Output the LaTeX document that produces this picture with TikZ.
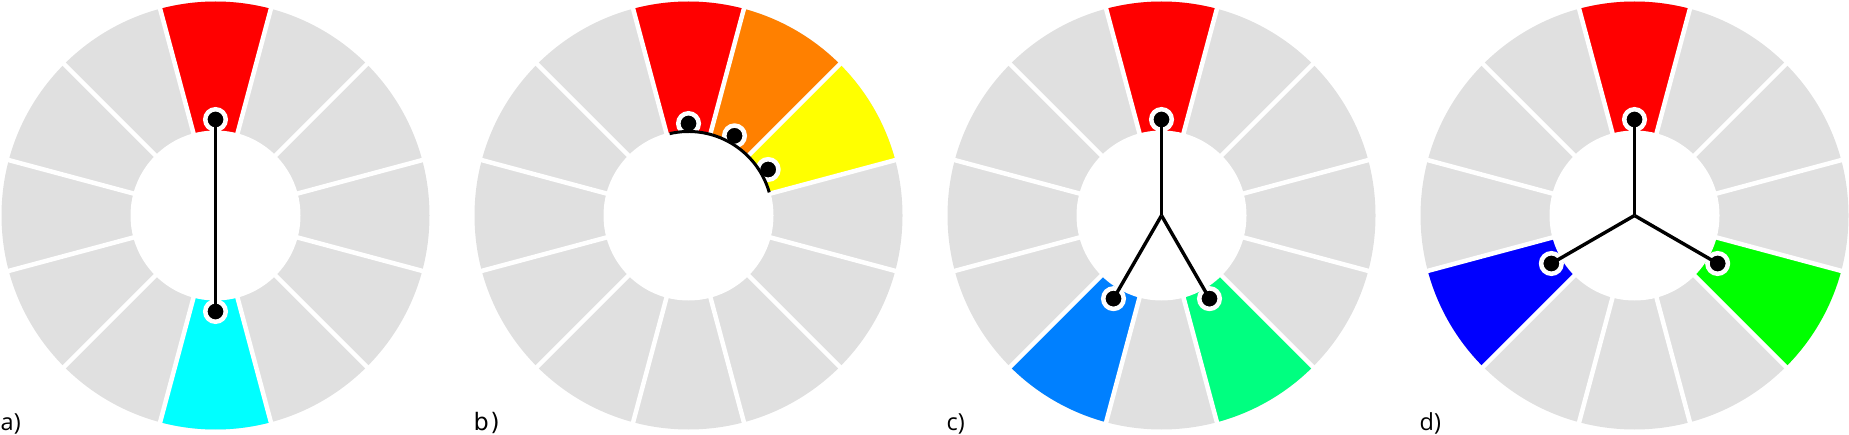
\documentclass[tikz,border=0pt]{standalone}
\usepackage{fontspec}
\setmainfont{Open Sans}
\newfontfamily\dejavu{DejaVu Sans}
\usetikzlibrary{calc}
\definecolor{wgrey}{HTML}{E0E0E0}
\definecolor{corange}{HTML}{FF8000}
\definecolor{cyellow}{HTML}{FFFF00}
\definecolor{ccyan}{HTML}{00FFFF}
\definecolor{cazure}{HTML}{0080FF}
\definecolor{cspring}{HTML}{00FF80}
\definecolor{cblue}{HTML}{0000FF}
\definecolor{cgreen}{HTML}{00FF00}
\definecolor{cred}{HTML}{FF0000}
\newcommand\wbase[2]{%
  \coordinate (#1) at (#2,218.5);
  \fill[wgrey] (#1) circle[radius=214];}
\newcommand\wsector[4]{%
  \fill[#4] (#1) -- ++(#2:214) arc[start angle=#2, end angle=#3, radius=214] -- cycle;}
\newcommand\wtop[1]{%
  \foreach \t in {15,45,...,345} \draw[spoke] (#1) -- ++(\t:218);
  \fill[white] (#1) circle[radius=85];}
\begin{document}
\begin{tikzpicture}[x=1pt,y=1pt,
  dot/.style={circle, fill=black, draw=white, line width=4.5pt, minimum size=20.5pt, inner sep=0pt},
  link/.style={line width=3.4pt, black},
  spoke/.style={white, line width=4.5pt},
  lbl/.style={anchor=base west, inner sep=0pt, font=\fontsize{23.5}{23.5}\selectfont}]
\useasboundingbox (0,0) rectangle (1849,434);

% ---- wheel a
\wbase{ca}{215.5}
\wsector{ca}{75}{105}{cred}
\wsector{ca}{255}{285}{ccyan}
\wtop{ca}
\node[dot] (a1) at ($(ca)+(90:96)$) {};
\node[dot] (a2) at ($(ca)+(270:96)$) {};
\draw[link] (a1.center) -- (a2.center);
\node[lbl] (la) at (0.5,3.5) {a)};

% ---- wheel b
\wbase{cb}{688.5}
\wsector{cb}{75}{105}{cred}
\wsector{cb}{45}{75}{corange}
\wsector{cb}{15}{45}{cyellow}
\wtop{cb}
\node[dot] (b1) at ($(cb)+(90:92)$) {};
\node[dot] (b2) at ($(cb)+(60:92)$) {};
\node[dot] (b3) at ($(cb)+(30:92)$) {};
\draw[line width=3pt] ($(cb)+(103:84)$) arc[start angle=103, end angle=16, radius=84];
\node[lbl, font=\dejavu\fontsize{24}{24}\selectfont] (lb) at (473.5,3.5) {\spaceskip=1.5pt b )};

% ---- wheel c
\wbase{cc}{1161.5}
\wsector{cc}{75}{105}{cred}
\wsector{cc}{225}{255}{cazure}
\wsector{cc}{285}{315}{cspring}
\wtop{cc}
\node[dot] (c1) at ($(cc)+(90:96)$) {};
\node[dot] (c2) at ($(cc)+(240:96)$) {};
\node[dot] (c3) at ($(cc)+(300:96)$) {};
\draw[link] (c1.center) -- (cc);
\draw[link] (c2.center) -- (cc);
\draw[link] (c3.center) -- (cc);
\node[lbl] (lc) at (946.5,3.5) {c)};

% ---- wheel d
\wbase{cd}{1634.5}
\wsector{cd}{75}{105}{cred}
\wsector{cd}{195}{225}{cblue}
\wsector{cd}{315}{345}{cgreen}
\wtop{cd}
\node[dot] (d1) at ($(cd)+(90:96)$) {};
\node[dot] (d2) at ($(cd)+(210:96)$) {};
\node[dot] (d3) at ($(cd)+(330:96)$) {};
\draw[link] (d1.center) -- (cd);
\draw[link] (d2.center) -- (cd);
\draw[link] (d3.center) -- (cd);
\node[lbl] (ld) at (1419.5,3.5) {d)};
\end{tikzpicture}
\end{document}
